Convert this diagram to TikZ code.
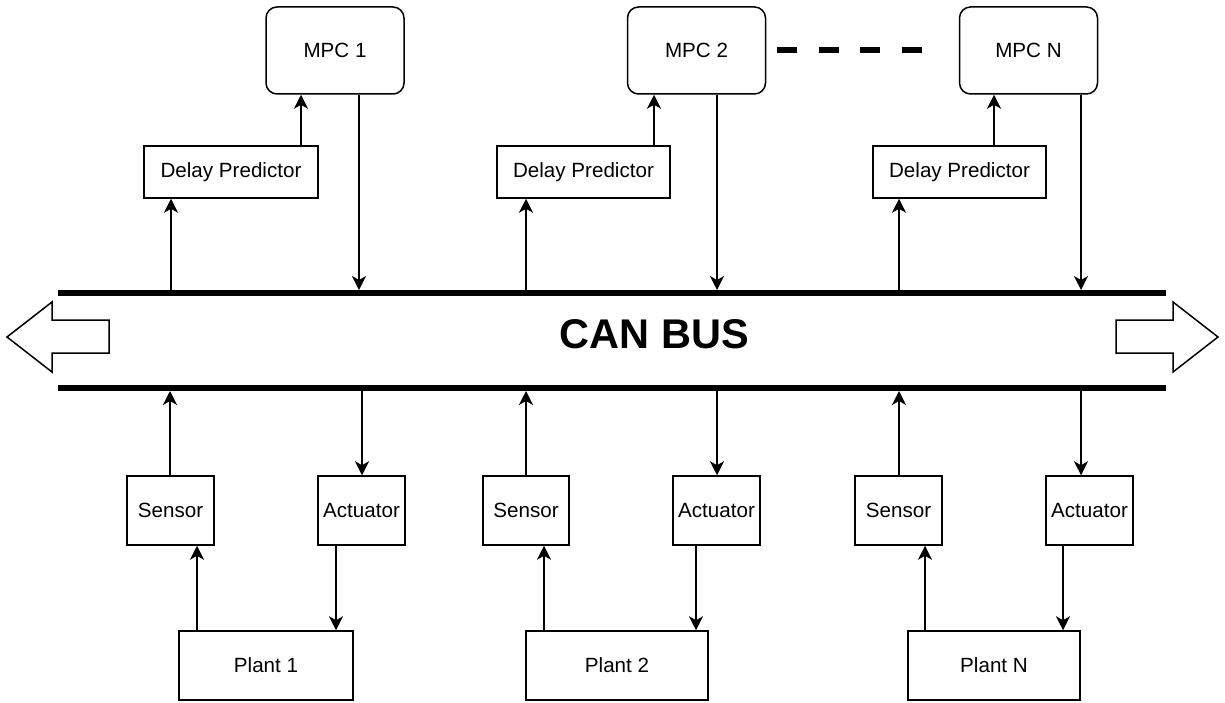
\documentclass[tikz,border=0pt]{standalone}
\usepackage{fontspec}
\setmainfont{Liberation Sans}
\usetikzlibrary{arrows.meta}

\tikzset{
  box/.style={draw, line width=1.5pt, rectangle, fill=white, inner sep=0pt,
              font=\fontsize{20.6}{24}\selectfont},
  mpcbox/.style={box, rounded corners=11pt, minimum width=138pt, minimum height=87pt},
  dpbox/.style={box, minimum width=174pt, minimum height=52pt},
  iobox/.style={box, minimum width=87pt, minimum height=69pt},
  plantbox/.style={box, minimum width=174pt, minimum height=69pt},
  arr/.style={line width=1.6pt, -{Stealth[length=14pt,width=14pt,inset=4pt]}},
  busline/.style={line width=6pt},
  hollow/.style={draw, line width=1.5pt, fill=white, line join=miter},
  dots/.style={line width=5.5pt, dash pattern=on 20pt off 21.6pt}
}

\begin{document}
\begin{tikzpicture}[x=1pt,y=-1pt]
\useasboundingbox (0,0) rectangle (1225,703);

% controllers
\node[mpcbox] (mpc1) at (335,50.5)    {MPC 1};
\node[mpcbox] (mpc2) at (696.5,50.5)  {MPC 2};
\node[mpcbox] (mpcN) at (1028.5,50.5) {MPC N};

% continuation dashes between MPC 2 and MPC N
\coordinate (d0) at (777,50);
\coordinate (d1) at (922,50);
\draw[dots] (d0) -- (d1);

% delay predictors
\node[dpbox] (dp1) at (231,172)   {Delay Predictor};
\node[dpbox, minimum width=173pt] (dp2) at (583.5,172) {Delay Predictor};
\node[dpbox, minimum width=173pt] (dpN) at (959.5,172) {Delay Predictor};

% sensors and actuators
\node[iobox] (s1) at (170.5,510.5)  {Sensor};
\node[iobox] (a1) at (361.5,510.5)  {Actuator};
\node[iobox, minimum width=86pt] (s2) at (526,510.5) {Sensor};
\node[iobox] (a2) at (716.5,510.5)  {Actuator};
\node[iobox] (sN) at (898.5,510.5)  {Sensor};
\node[iobox] (aN) at (1089.5,510.5) {Actuator};

% plants
\node[plantbox] (p1) at (266,665.5) {Plant 1};
\node[plantbox, minimum width=182pt] (p2) at (617,665.5) {Plant 2};
\node[plantbox, minimum width=172pt] (pN) at (994,665.5) {Plant N};

% CAN bus
\coordinate (busTL) at (58,293);
\coordinate (busTR) at (1166,293);
\coordinate (busBL) at (58,388);
\coordinate (busBR) at (1166,388);
\draw[busline] (busTL) -- (busTR);
\draw[busline] (busBL) -- (busBR);
\node[font=\fontsize{41.5}{48}\selectfont\bfseries] (can) at (654.5,334) {CAN BUS};

% bus direction arrows
\draw[hollow] (7,337) -- (52,302) -- (52,320) -- (109,320) -- (109,353)
              -- (52,353) -- (52,372) -- cycle;
\draw[hollow] (1218,337) -- (1173,302) -- (1173,320) -- (1116,320) -- (1116,353)
              -- (1173,353) -- (1173,372) -- cycle;

% taps on the upper bus line
\coordinate (t1) at (171,290);  \coordinate (t2) at (359,290);
\coordinate (t3) at (526,290);  \coordinate (t4) at (717,290);
\coordinate (t5) at (899,290);  \coordinate (t6) at (1081,290);
% taps on the lower bus line
\coordinate (b1) at (170,391);  \coordinate (b2) at (362,391);
\coordinate (b3) at (526,391);  \coordinate (b4) at (717,391);
\coordinate (b5) at (899,391);  \coordinate (b6) at (1081,391);
% vertical guides for the other links
\coordinate (u1) at (301,0);  \coordinate (u2) at (654,0);  \coordinate (u3) at (994,0);
\coordinate (v1) at (197,0);  \coordinate (v2) at (336,0);
\coordinate (v3) at (544,0);  \coordinate (v4) at (696,0);
\coordinate (v5) at (925,0);  \coordinate (v6) at (1063,0);

% controller side
\draw[arr] (t1) -- (dp1.south -| t1);
\draw[arr] (dp1.north -| u1) -- (mpc1.south -| u1);
\draw[arr] (mpc1.south -| t2) -- (t2);
\draw[arr] (t3) -- (dp2.south -| t3);
\draw[arr] (dp2.north -| u2) -- (mpc2.south -| u2);
\draw[arr] (mpc2.south -| t4) -- (t4);
\draw[arr] (t5) -- (dpN.south -| t5);
\draw[arr] (dpN.north -| u3) -- (mpcN.south -| u3);
\draw[arr] (mpcN.south -| t6) -- (t6);

% plant side
\draw[arr] (s1.north -| b1) -- (b1);
\draw[arr] (b2) -- (a1.north -| b2);
\draw[arr] (p1.north -| v1) -- (s1.south -| v1);
\draw[arr] (a1.south -| v2) -- (p1.north -| v2);
\draw[arr] (s2.north -| b3) -- (b3);
\draw[arr] (b4) -- (a2.north -| b4);
\draw[arr] (p2.north -| v3) -- (s2.south -| v3);
\draw[arr] (a2.south -| v4) -- (p2.north -| v4);
\draw[arr] (sN.north -| b5) -- (b5);
\draw[arr] (b6) -- (aN.north -| b6);
\draw[arr] (pN.north -| v5) -- (sN.south -| v5);
\draw[arr] (aN.south -| v6) -- (pN.north -| v6);
\end{tikzpicture}
\end{document}
